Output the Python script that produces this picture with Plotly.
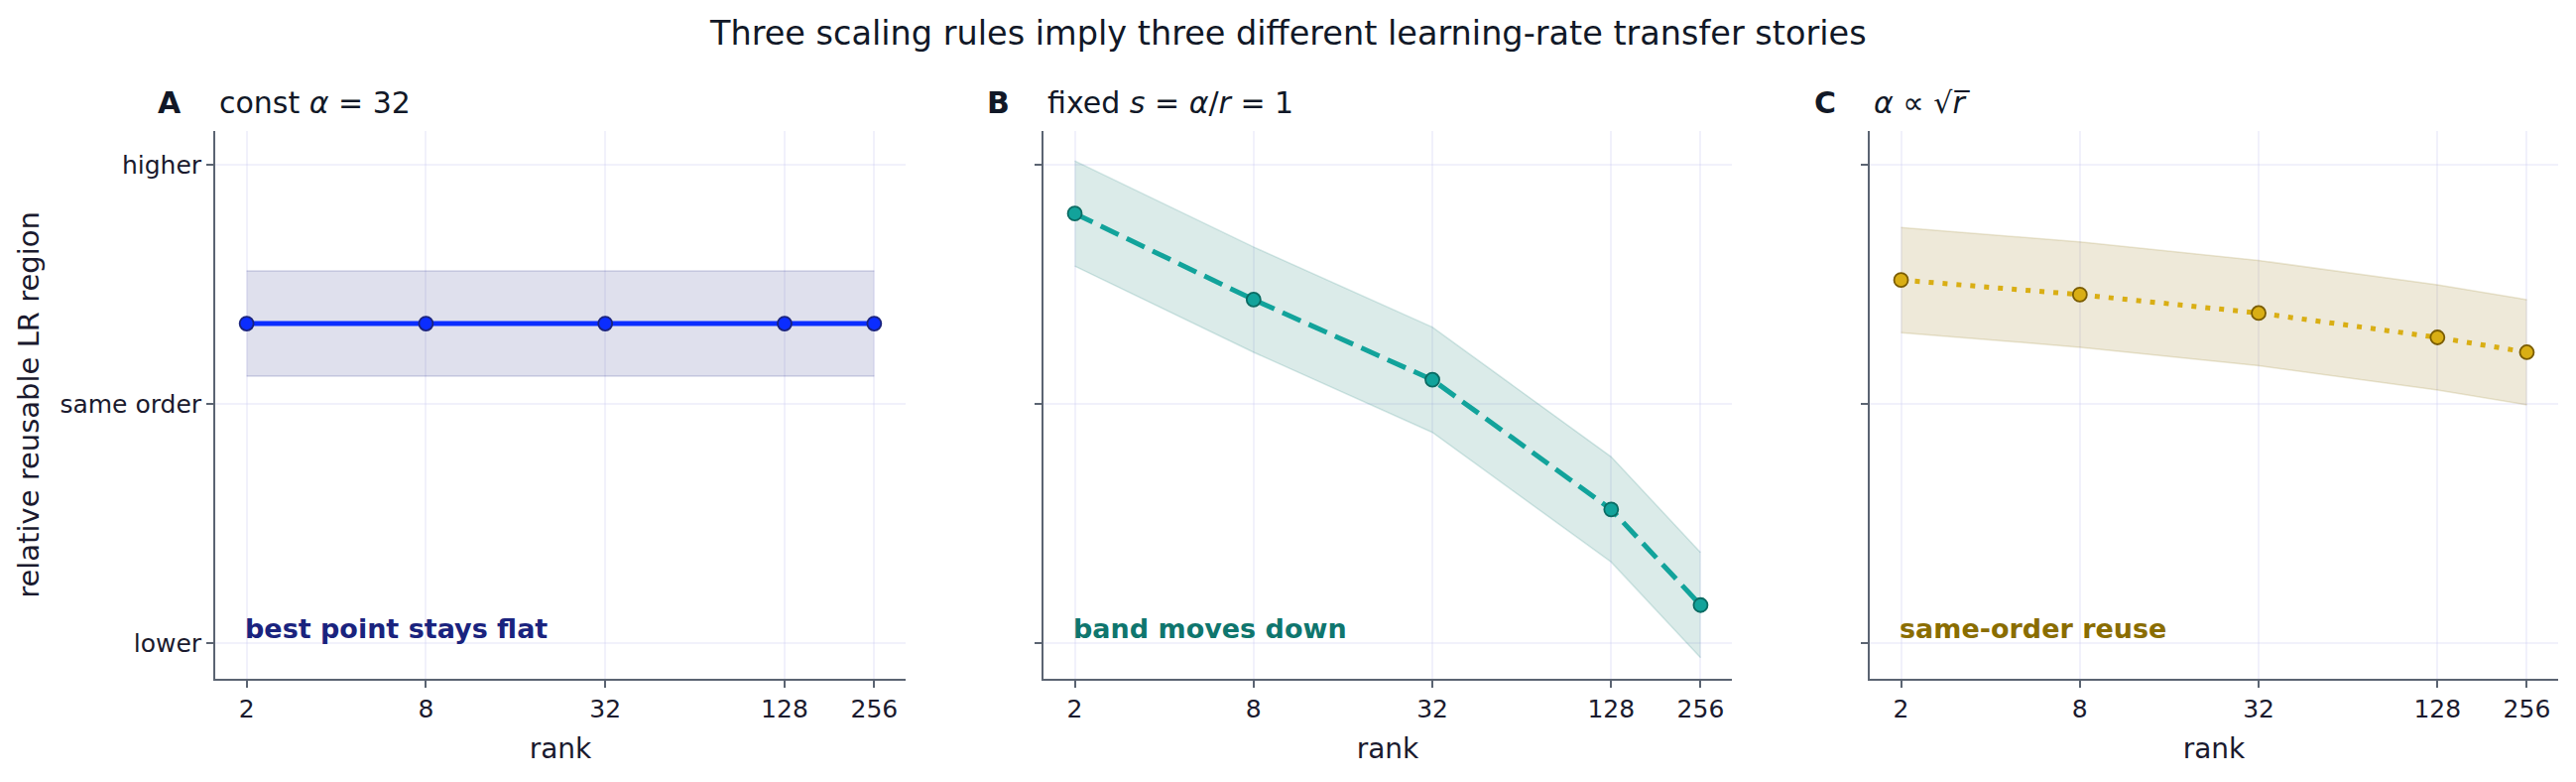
import plotly.graph_objects as go
import numpy as np

# ---- data ----
ranks = [2, 8, 32, 128, 256]
const_alpha = [1.335, 1.335, 1.335, 1.335, 1.335]
fixed_s = [1.795, 1.435, 1.10, 0.558, 0.158]
sqrt_alpha = [1.517, 1.456, 1.379, 1.277, 1.215]
band_half = 0.22
ytick_vals = [0, 1, 2]
ytick_text = ["lower", "same order", "higher"]
panel_letters = ["A", "B", "C"]
panel_titles = ["const <i>α</i> = 32",
                "fixed <i>s</i> = <i>α</i>/<i>r</i> = 1",
                "<i>α</i> ∝ √<i>r̅</i>"]
notes = ["best point stays flat", "band moves down", "same-order reuse"]
suptitle = "Three scaling rules imply three different learning-rate transfer stories"

series = [const_alpha, fixed_s, sqrt_alpha]
line_colors = ["#0b2dff", "#12a39b", "#d9ae14"]
edge_colors = ["#1a237e", "#0b6b63", "#7a5c00"]
band_fill = ["rgba(26,35,126,0.14)", "rgba(15,118,110,0.15)", "rgba(138,109,0,0.15)"]
band_edge = ["rgba(26,35,126,0.18)", "rgba(15,118,110,0.16)", "rgba(138,109,0,0.16)"]
note_colors = ["#1a237e", "#0f766e", "#8a6d00"]
dashes = ["solid", "20px,9px", "5px,9px"]

W, H = 2597, 788
x_dom_px = [(217, 913), (1052, 1746), (1885, 2579)]
y_dom = [1 - 684 / H, 1 - 132 / H]

FONT = "DejaVu Sans"
SPINE = "#5b6472"
GRID = "rgba(200,200,240,0.26)"

fig = go.Figure()
xr = [0.65 * np.log10(2), 8.35 * np.log10(2)]

for i in range(3):
    xa = "x" if i == 0 else f"x{i+1}"
    ya = "y" if i == 0 else f"y{i+1}"
    vals = series[i]
    lo = [v - band_half for v in vals]
    hi = [v + band_half for v in vals]
    fig.add_trace(go.Scatter(x=ranks, y=lo, mode="lines", line=dict(color=band_edge[i], width=1.5),
                             xaxis=xa, yaxis=ya, showlegend=False, hoverinfo="skip"))
    fig.add_trace(go.Scatter(x=ranks, y=hi, mode="lines", line=dict(color=band_edge[i], width=1.5),
                             fill="tonexty", fillcolor=band_fill[i],
                             xaxis=xa, yaxis=ya, showlegend=False, hoverinfo="skip"))
    fig.add_trace(go.Scatter(x=ranks, y=vals, mode="lines+markers",
                             line=dict(color=line_colors[i], width=5, dash=dashes[i]),
                             marker=dict(size=14, color=line_colors[i], line=dict(color=edge_colors[i], width=1.8)),
                             xaxis=xa, yaxis=ya, showlegend=False))
    x0, x1 = x_dom_px[i]
    dom = [x0 / W, x1 / W]
    xkey = "xaxis" if i == 0 else f"xaxis{i+1}"
    ykey = "yaxis" if i == 0 else f"yaxis{i+1}"
    fig.layout[xkey] = dict(domain=dom, anchor=ya, type="log", range=xr,
                            tickvals=ranks, ticktext=[str(r) for r in ranks],
                            showgrid=True, gridcolor=GRID, gridwidth=1.5,
                            showline=True, linecolor=SPINE, linewidth=1.8,
                            ticks="outside", ticklen=7, tickwidth=1.5, tickcolor=SPINE,
                            tickfont=dict(family=FONT, size=25, color="#1a1a2e"),
                            title=dict(text="rank", font=dict(family=FONT, size=28, color="#1a1a2e"), standoff=16),
                            zeroline=False, mirror=False)
    fig.layout[ykey] = dict(domain=y_dom, anchor=xa, range=[-0.15, 2.14],
                            tickvals=ytick_vals, ticktext=ytick_text if i == 0 else ["", "", ""],
                            showgrid=True, gridcolor=GRID, gridwidth=1.5,
                            showline=True, linecolor=SPINE, linewidth=1.8,
                            ticks="outside", ticklen=7, tickwidth=1.5, tickcolor=SPINE,
                            tickfont=dict(family=FONT, size=25, color="#1a1a2e"),
                            zeroline=False)
    # panel letter and title
    fig.add_annotation(text=f"<b>{panel_letters[i]}</b>", xref="paper", yref="paper",
                       x=(x0 - 32) / W, y=1 - 104 / H, xanchor="right", yanchor="middle",
                       showarrow=False, font=dict(family=FONT, size=30, color="#111827"))
    fig.add_annotation(text=panel_titles[i], xref="paper", yref="paper",
                       x=(x0 + 2) / W, y=1 - 104 / H, xanchor="left", yanchor="middle",
                       showarrow=False, font=dict(family=FONT, size=30, color="#111827"))
    # note
    fig.add_annotation(text=f"<b>{notes[i]}</b>", xref=xa, yref=ya,
                       x=np.log10(2), y=0.06, xanchor="left", yanchor="middle",
                       showarrow=False, xshift=-4, font=dict(family=FONT, size=27, color=note_colors[i]))

fig.layout.yaxis.title = dict(text="relative reusable LR region",
                              font=dict(family=FONT, size=29, color="#1a1a2e"), standoff=12)

fig.add_annotation(text=suptitle, xref="paper", yref="paper", x=0.5, y=1 - 33 / H,
                   xanchor="center", yanchor="middle", showarrow=False,
                   font=dict(family=FONT, size=33.5, color="#111827"))

fig.update_layout(width=W, height=H, margin=dict(l=0, r=0, t=0, b=0),
                  paper_bgcolor="white", plot_bgcolor="white",
                  font=dict(family=FONT))

fig.write_html("out.html")
